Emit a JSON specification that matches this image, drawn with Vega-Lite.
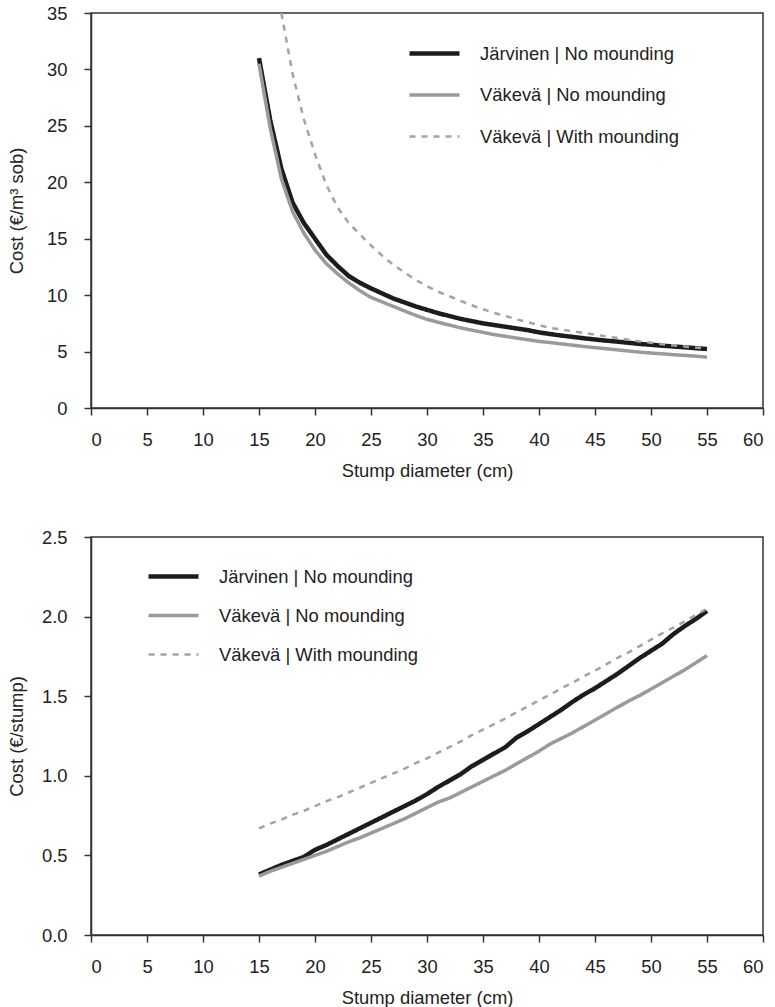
{
  "$schema": "https://vega.github.io/schema/vega-lite/v6.json",
  "background": "white",
  "padding": {"left": 6, "top": 3, "right": 5, "bottom": 0},
  "spacing": 46,
  "datasets": {
    "top": [
      {"d":15,"series":"Järvinen | No mounding","cost":31.0},{"d":16,"series":"Järvinen | No mounding","cost":25.5},{"d":17,"series":"Järvinen | No mounding","cost":21.2},{"d":18,"series":"Järvinen | No mounding","cost":18.2},{"d":19,"series":"Järvinen | No mounding","cost":16.4},{"d":20,"series":"Järvinen | No mounding","cost":15.0},{"d":21,"series":"Järvinen | No mounding","cost":13.6},{"d":22,"series":"Järvinen | No mounding","cost":12.6},{"d":23,"series":"Järvinen | No mounding","cost":11.7},{"d":24,"series":"Järvinen | No mounding","cost":11.1},{"d":25,"series":"Järvinen | No mounding","cost":10.6},{"d":26,"series":"Järvinen | No mounding","cost":10.15},{"d":27,"series":"Järvinen | No mounding","cost":9.7},{"d":28,"series":"Järvinen | No mounding","cost":9.35},{"d":29,"series":"Järvinen | No mounding","cost":9.0},{"d":30,"series":"Järvinen | No mounding","cost":8.7},{"d":31,"series":"Järvinen | No mounding","cost":8.4},{"d":32,"series":"Järvinen | No mounding","cost":8.15},{"d":33,"series":"Järvinen | No mounding","cost":7.9},{"d":34,"series":"Järvinen | No mounding","cost":7.7},{"d":35,"series":"Järvinen | No mounding","cost":7.5},{"d":36,"series":"Järvinen | No mounding","cost":7.35},{"d":37,"series":"Järvinen | No mounding","cost":7.2},{"d":38,"series":"Järvinen | No mounding","cost":7.05},{"d":39,"series":"Järvinen | No mounding","cost":6.9},{"d":40,"series":"Järvinen | No mounding","cost":6.7},{"d":41,"series":"Järvinen | No mounding","cost":6.55},{"d":42,"series":"Järvinen | No mounding","cost":6.42},{"d":43,"series":"Järvinen | No mounding","cost":6.3},{"d":44,"series":"Järvinen | No mounding","cost":6.18},{"d":45,"series":"Järvinen | No mounding","cost":6.07},{"d":46,"series":"Järvinen | No mounding","cost":5.97},{"d":47,"series":"Järvinen | No mounding","cost":5.88},{"d":48,"series":"Järvinen | No mounding","cost":5.78},{"d":49,"series":"Järvinen | No mounding","cost":5.68},{"d":50,"series":"Järvinen | No mounding","cost":5.6},{"d":51,"series":"Järvinen | No mounding","cost":5.52},{"d":52,"series":"Järvinen | No mounding","cost":5.45},{"d":53,"series":"Järvinen | No mounding","cost":5.38},{"d":54,"series":"Järvinen | No mounding","cost":5.3},{"d":55,"series":"Järvinen | No mounding","cost":5.23},
      {"d":15,"series":"Väkevä | No mounding","cost":30.5},{"d":16,"series":"Väkevä | No mounding","cost":24.8},{"d":17,"series":"Väkevä | No mounding","cost":20.3},{"d":18,"series":"Väkevä | No mounding","cost":17.4},{"d":19,"series":"Väkevä | No mounding","cost":15.5},{"d":20,"series":"Väkevä | No mounding","cost":14.0},{"d":21,"series":"Väkevä | No mounding","cost":12.8},{"d":22,"series":"Väkevä | No mounding","cost":11.9},{"d":23,"series":"Väkevä | No mounding","cost":11.1},{"d":24,"series":"Väkevä | No mounding","cost":10.4},{"d":25,"series":"Väkevä | No mounding","cost":9.8},{"d":26,"series":"Väkevä | No mounding","cost":9.4},{"d":27,"series":"Väkevä | No mounding","cost":9.0},{"d":28,"series":"Väkevä | No mounding","cost":8.6},{"d":29,"series":"Väkevä | No mounding","cost":8.2},{"d":30,"series":"Väkevä | No mounding","cost":7.85},{"d":31,"series":"Väkevä | No mounding","cost":7.6},{"d":32,"series":"Väkevä | No mounding","cost":7.35},{"d":33,"series":"Väkevä | No mounding","cost":7.1},{"d":34,"series":"Väkevä | No mounding","cost":6.9},{"d":35,"series":"Väkevä | No mounding","cost":6.7},{"d":36,"series":"Väkevä | No mounding","cost":6.5},{"d":37,"series":"Väkevä | No mounding","cost":6.35},{"d":38,"series":"Väkevä | No mounding","cost":6.2},{"d":39,"series":"Väkevä | No mounding","cost":6.05},{"d":40,"series":"Väkevä | No mounding","cost":5.9},{"d":41,"series":"Väkevä | No mounding","cost":5.8},{"d":42,"series":"Väkevä | No mounding","cost":5.68},{"d":43,"series":"Väkevä | No mounding","cost":5.57},{"d":44,"series":"Väkevä | No mounding","cost":5.45},{"d":45,"series":"Väkevä | No mounding","cost":5.35},{"d":46,"series":"Väkevä | No mounding","cost":5.25},{"d":47,"series":"Väkevä | No mounding","cost":5.15},{"d":48,"series":"Väkevä | No mounding","cost":5.05},{"d":49,"series":"Väkevä | No mounding","cost":4.95},{"d":50,"series":"Väkevä | No mounding","cost":4.87},{"d":51,"series":"Väkevä | No mounding","cost":4.8},{"d":52,"series":"Väkevä | No mounding","cost":4.72},{"d":53,"series":"Väkevä | No mounding","cost":4.66},{"d":54,"series":"Väkevä | No mounding","cost":4.6},{"d":55,"series":"Väkevä | No mounding","cost":4.5},
      {"d":17,"series":"Väkevä | With mounding","cost":35.0},{"d":18,"series":"Väkevä | With mounding","cost":29.6},{"d":19,"series":"Väkevä | With mounding","cost":25.6},{"d":20,"series":"Väkevä | With mounding","cost":22.5},{"d":21,"series":"Väkevä | With mounding","cost":19.8},{"d":22,"series":"Väkevä | With mounding","cost":17.8},{"d":23,"series":"Väkevä | With mounding","cost":16.4},{"d":24,"series":"Väkevä | With mounding","cost":15.4},{"d":25,"series":"Väkevä | With mounding","cost":14.4},{"d":26,"series":"Väkevä | With mounding","cost":13.5},{"d":27,"series":"Väkevä | With mounding","cost":12.7},{"d":28,"series":"Väkevä | With mounding","cost":12.0},{"d":29,"series":"Väkevä | With mounding","cost":11.35},{"d":30,"series":"Väkevä | With mounding","cost":10.8},{"d":31,"series":"Väkevä | With mounding","cost":10.3},{"d":32,"series":"Väkevä | With mounding","cost":9.9},{"d":33,"series":"Väkevä | With mounding","cost":9.5},{"d":34,"series":"Väkevä | With mounding","cost":9.1},{"d":35,"series":"Väkevä | With mounding","cost":8.75},{"d":36,"series":"Väkevä | With mounding","cost":8.42},{"d":37,"series":"Väkevä | With mounding","cost":8.15},{"d":38,"series":"Väkevä | With mounding","cost":7.85},{"d":39,"series":"Väkevä | With mounding","cost":7.6},{"d":40,"series":"Väkevä | With mounding","cost":7.35},{"d":41,"series":"Väkevä | With mounding","cost":7.1},{"d":42,"series":"Väkevä | With mounding","cost":6.95},{"d":43,"series":"Väkevä | With mounding","cost":6.8},{"d":44,"series":"Väkevä | With mounding","cost":6.65},{"d":45,"series":"Väkevä | With mounding","cost":6.5},{"d":46,"series":"Väkevä | With mounding","cost":6.35},{"d":47,"series":"Väkevä | With mounding","cost":6.2},{"d":48,"series":"Väkevä | With mounding","cost":6.05},{"d":49,"series":"Väkevä | With mounding","cost":5.9},{"d":50,"series":"Väkevä | With mounding","cost":5.78},{"d":51,"series":"Väkevä | With mounding","cost":5.65},{"d":52,"series":"Väkevä | With mounding","cost":5.55},{"d":53,"series":"Väkevä | With mounding","cost":5.45},{"d":54,"series":"Väkevä | With mounding","cost":5.35},{"d":55,"series":"Väkevä | With mounding","cost":5.28}
    ],
    "bottom": [
      {"d":15,"series":"Järvinen | No mounding","cost":0.38},{"d":16,"series":"Järvinen | No mounding","cost":0.41},{"d":17,"series":"Järvinen | No mounding","cost":0.44},{"d":18,"series":"Järvinen | No mounding","cost":0.465},{"d":19,"series":"Järvinen | No mounding","cost":0.49},{"d":20,"series":"Järvinen | No mounding","cost":0.535},{"d":21,"series":"Järvinen | No mounding","cost":0.565},{"d":22,"series":"Järvinen | No mounding","cost":0.6},{"d":23,"series":"Järvinen | No mounding","cost":0.635},{"d":24,"series":"Järvinen | No mounding","cost":0.67},{"d":25,"series":"Järvinen | No mounding","cost":0.705},{"d":26,"series":"Järvinen | No mounding","cost":0.74},{"d":27,"series":"Järvinen | No mounding","cost":0.775},{"d":28,"series":"Järvinen | No mounding","cost":0.81},{"d":29,"series":"Järvinen | No mounding","cost":0.845},{"d":30,"series":"Järvinen | No mounding","cost":0.885},{"d":31,"series":"Järvinen | No mounding","cost":0.93},{"d":32,"series":"Järvinen | No mounding","cost":0.97},{"d":33,"series":"Järvinen | No mounding","cost":1.01},{"d":34,"series":"Järvinen | No mounding","cost":1.06},{"d":35,"series":"Järvinen | No mounding","cost":1.1},{"d":36,"series":"Järvinen | No mounding","cost":1.14},{"d":37,"series":"Järvinen | No mounding","cost":1.18},{"d":38,"series":"Järvinen | No mounding","cost":1.24},{"d":39,"series":"Järvinen | No mounding","cost":1.28},{"d":40,"series":"Järvinen | No mounding","cost":1.325},{"d":41,"series":"Järvinen | No mounding","cost":1.37},{"d":42,"series":"Järvinen | No mounding","cost":1.415},{"d":43,"series":"Järvinen | No mounding","cost":1.465},{"d":44,"series":"Järvinen | No mounding","cost":1.51},{"d":45,"series":"Järvinen | No mounding","cost":1.55},{"d":46,"series":"Järvinen | No mounding","cost":1.595},{"d":47,"series":"Järvinen | No mounding","cost":1.64},{"d":48,"series":"Järvinen | No mounding","cost":1.69},{"d":49,"series":"Järvinen | No mounding","cost":1.74},{"d":50,"series":"Järvinen | No mounding","cost":1.785},{"d":51,"series":"Järvinen | No mounding","cost":1.83},{"d":52,"series":"Järvinen | No mounding","cost":1.89},{"d":53,"series":"Järvinen | No mounding","cost":1.94},{"d":54,"series":"Järvinen | No mounding","cost":1.985},{"d":55,"series":"Järvinen | No mounding","cost":2.035},
      {"d":15,"series":"Väkevä | No mounding","cost":0.37},{"d":16,"series":"Väkevä | No mounding","cost":0.4},{"d":17,"series":"Väkevä | No mounding","cost":0.425},{"d":18,"series":"Väkevä | No mounding","cost":0.45},{"d":19,"series":"Väkevä | No mounding","cost":0.475},{"d":20,"series":"Väkevä | No mounding","cost":0.5},{"d":21,"series":"Väkevä | No mounding","cost":0.525},{"d":22,"series":"Väkevä | No mounding","cost":0.555},{"d":23,"series":"Väkevä | No mounding","cost":0.585},{"d":24,"series":"Väkevä | No mounding","cost":0.61},{"d":25,"series":"Väkevä | No mounding","cost":0.64},{"d":26,"series":"Väkevä | No mounding","cost":0.67},{"d":27,"series":"Väkevä | No mounding","cost":0.7},{"d":28,"series":"Väkevä | No mounding","cost":0.73},{"d":29,"series":"Väkevä | No mounding","cost":0.765},{"d":30,"series":"Väkevä | No mounding","cost":0.8},{"d":31,"series":"Väkevä | No mounding","cost":0.835},{"d":32,"series":"Väkevä | No mounding","cost":0.86},{"d":33,"series":"Väkevä | No mounding","cost":0.895},{"d":34,"series":"Väkevä | No mounding","cost":0.93},{"d":35,"series":"Väkevä | No mounding","cost":0.965},{"d":36,"series":"Väkevä | No mounding","cost":1.0},{"d":37,"series":"Väkevä | No mounding","cost":1.035},{"d":38,"series":"Väkevä | No mounding","cost":1.075},{"d":39,"series":"Väkevä | No mounding","cost":1.115},{"d":40,"series":"Väkevä | No mounding","cost":1.155},{"d":41,"series":"Väkevä | No mounding","cost":1.2},{"d":42,"series":"Väkevä | No mounding","cost":1.235},{"d":43,"series":"Väkevä | No mounding","cost":1.27},{"d":44,"series":"Väkevä | No mounding","cost":1.31},{"d":45,"series":"Väkevä | No mounding","cost":1.35},{"d":46,"series":"Väkevä | No mounding","cost":1.39},{"d":47,"series":"Väkevä | No mounding","cost":1.43},{"d":48,"series":"Väkevä | No mounding","cost":1.47},{"d":49,"series":"Väkevä | No mounding","cost":1.505},{"d":50,"series":"Väkevä | No mounding","cost":1.545},{"d":51,"series":"Väkevä | No mounding","cost":1.585},{"d":52,"series":"Väkevä | No mounding","cost":1.625},{"d":53,"series":"Väkevä | No mounding","cost":1.665},{"d":54,"series":"Väkevä | No mounding","cost":1.71},{"d":55,"series":"Väkevä | No mounding","cost":1.755},
      {"d":15,"series":"Väkevä | With mounding","cost":0.67},{"d":16,"series":"Väkevä | With mounding","cost":0.7},{"d":17,"series":"Väkevä | With mounding","cost":0.725},{"d":18,"series":"Väkevä | With mounding","cost":0.755},{"d":19,"series":"Väkevä | With mounding","cost":0.78},{"d":20,"series":"Väkevä | With mounding","cost":0.81},{"d":21,"series":"Väkevä | With mounding","cost":0.84},{"d":22,"series":"Väkevä | With mounding","cost":0.865},{"d":23,"series":"Väkevä | With mounding","cost":0.895},{"d":24,"series":"Väkevä | With mounding","cost":0.925},{"d":25,"series":"Väkevä | With mounding","cost":0.955},{"d":26,"series":"Väkevä | With mounding","cost":0.985},{"d":27,"series":"Väkevä | With mounding","cost":1.015},{"d":28,"series":"Väkevä | With mounding","cost":1.045},{"d":29,"series":"Väkevä | With mounding","cost":1.08},{"d":30,"series":"Väkevä | With mounding","cost":1.11},{"d":31,"series":"Väkevä | With mounding","cost":1.145},{"d":32,"series":"Väkevä | With mounding","cost":1.18},{"d":33,"series":"Väkevä | With mounding","cost":1.215},{"d":34,"series":"Väkevä | With mounding","cost":1.255},{"d":35,"series":"Väkevä | With mounding","cost":1.29},{"d":36,"series":"Väkevä | With mounding","cost":1.325},{"d":37,"series":"Väkevä | With mounding","cost":1.36},{"d":38,"series":"Väkevä | With mounding","cost":1.4},{"d":39,"series":"Väkevä | With mounding","cost":1.435},{"d":40,"series":"Väkevä | With mounding","cost":1.475},{"d":41,"series":"Väkevä | With mounding","cost":1.51},{"d":42,"series":"Väkevä | With mounding","cost":1.55},{"d":43,"series":"Väkevä | With mounding","cost":1.585},{"d":44,"series":"Väkevä | With mounding","cost":1.625},{"d":45,"series":"Väkevä | With mounding","cost":1.66},{"d":46,"series":"Väkevä | With mounding","cost":1.7},{"d":47,"series":"Väkevä | With mounding","cost":1.74},{"d":48,"series":"Väkevä | With mounding","cost":1.775},{"d":49,"series":"Väkevä | With mounding","cost":1.815},{"d":50,"series":"Väkevä | With mounding","cost":1.855},{"d":51,"series":"Väkevä | With mounding","cost":1.895},{"d":52,"series":"Väkevä | With mounding","cost":1.93},{"d":53,"series":"Väkevä | With mounding","cost":1.97},{"d":54,"series":"Väkevä | With mounding","cost":2.01},{"d":55,"series":"Väkevä | With mounding","cost":2.05}
    ]
  },
  "vconcat": [
    {
      "width": 672,
      "height": 395,
      "data": {"name": "top"},
      "mark": {"type": "line", "strokeCap": "butt", "strokeJoin": "round"},
      "encoding": {
        "x": {"field": "d", "type": "quantitative", "title": "Stump diameter (cm)",
              "scale": {"domain": [0, 60], "nice": false},
              "axis": {"values": [0,5,10,15,20,25,30,35,40,45,50,55,60]}},
        "y": {"field": "cost", "type": "quantitative", "title": "Cost (€/m³ sob)",
              "scale": {"domain": [0, 35], "nice": false},
              "axis": {"values": [0,5,10,15,20,25,30,35], "titleX": -75, "titleY": 197.5}},
        "color": {"field": "series", "type": "nominal",
                  "scale": {"domain": ["Järvinen | No mounding","Väkevä | No mounding","Väkevä | With mounding"], "range": ["#1c1c1c","#9a9a9a","#a3a3a3"]},
                  "legend": {"orient": "none", "legendX": 316, "legendY": 13, "rowPadding": 5}},
        "strokeDash": {"field": "series", "type": "nominal",
                  "scale": {"domain": ["Järvinen | No mounding","Väkevä | No mounding","Väkevä | With mounding"], "range": [[1,0],[1,0],[6,6]]},
                  "legend": {"orient": "none", "legendX": 316, "legendY": 13, "rowPadding": 5}},
        "strokeWidth": {"field": "series", "type": "nominal",
                  "scale": {"domain": ["Järvinen | No mounding","Väkevä | No mounding","Väkevä | With mounding"], "range": [4.5, 2.5, 3]},
                  "legend": {"orient": "none", "legendX": 316, "legendY": 13, "rowPadding": 5}},
        "order": {"field": "d", "type": "quantitative"}
      }
    },
    {
      "width": 672,
      "height": 398,
      "data": {"name": "bottom"},
      "mark": {"type": "line", "strokeCap": "butt", "strokeJoin": "round"},
      "encoding": {
        "x": {"field": "d", "type": "quantitative", "title": "Stump diameter (cm)",
              "scale": {"domain": [0, 60], "nice": false},
              "axis": {"values": [0,5,10,15,20,25,30,35,40,45,50,55,60]}},
        "y": {"field": "cost", "type": "quantitative", "title": "Cost (€/stump)",
              "scale": {"domain": [0, 2.5], "nice": false},
              "axis": {"values": [0,0.5,1,1.5,2,2.5], "format": ".1f", "titleX": -75, "titleY": 199}},
        "color": {"field": "series", "type": "nominal",
                  "scale": {"domain": ["Järvinen | No mounding","Väkevä | No mounding","Väkevä | With mounding"], "range": ["#1c1c1c","#9a9a9a","#a3a3a3"]},
                  "legend": {"orient": "none", "legendX": 55, "legendY": 12, "rowPadding": 2.5}},
        "strokeDash": {"field": "series", "type": "nominal",
                  "scale": {"domain": ["Järvinen | No mounding","Väkevä | No mounding","Väkevä | With mounding"], "range": [[1,0],[1,0],[6,6]]},
                  "legend": {"orient": "none", "legendX": 55, "legendY": 12, "rowPadding": 2.5}},
        "strokeWidth": {"field": "series", "type": "nominal",
                  "scale": {"domain": ["Järvinen | No mounding","Väkevä | No mounding","Väkevä | With mounding"], "range": [4.5, 2.5, 3]},
                  "legend": {"orient": "none", "legendX": 55, "legendY": 12, "rowPadding": 2.5}},
        "order": {"field": "d", "type": "quantitative"}
      }
    }
  ],
  "resolve": {
    "scale": {"color": "independent", "strokeDash": "independent", "strokeWidth": "independent"},
    "legend": {"color": "independent", "strokeDash": "independent", "strokeWidth": "independent"}
  },
  "config": {
    "font": "Liberation Sans",
    "view": {"stroke": "#333333", "strokeWidth": 1.5},
    "axis": {
      "grid": false,
      "domainColor": "#333333", "domainWidth": 1.5,
      "tickColor": "#333333", "tickWidth": 1.5, "tickSize": 7,
      "labelFont": "Liberation Sans", "labelFontSize": 18.4, "labelColor": "#222222",
      "titleFont": "Liberation Sans", "titleFontSize": 18.4, "titleFontWeight": "normal", "titleColor": "#222222"
    },
    "axisX": {"labelPadding": 15, "titlePadding": 13},
    "axisY": {"labelPadding": 17, "titleAngle": -90, "titleBaseline": "middle", "titleAlign": "center"},
    "legend": {
      "title": null, "padding": 0,
      "symbolType": "stroke", "symbolSize": 2500,
      "labelFont": "Liberation Sans", "labelFontSize": 18.4, "labelColor": "#222222",
      "labelOffset": 18, "labelLimit": 0
    }
  }
}
